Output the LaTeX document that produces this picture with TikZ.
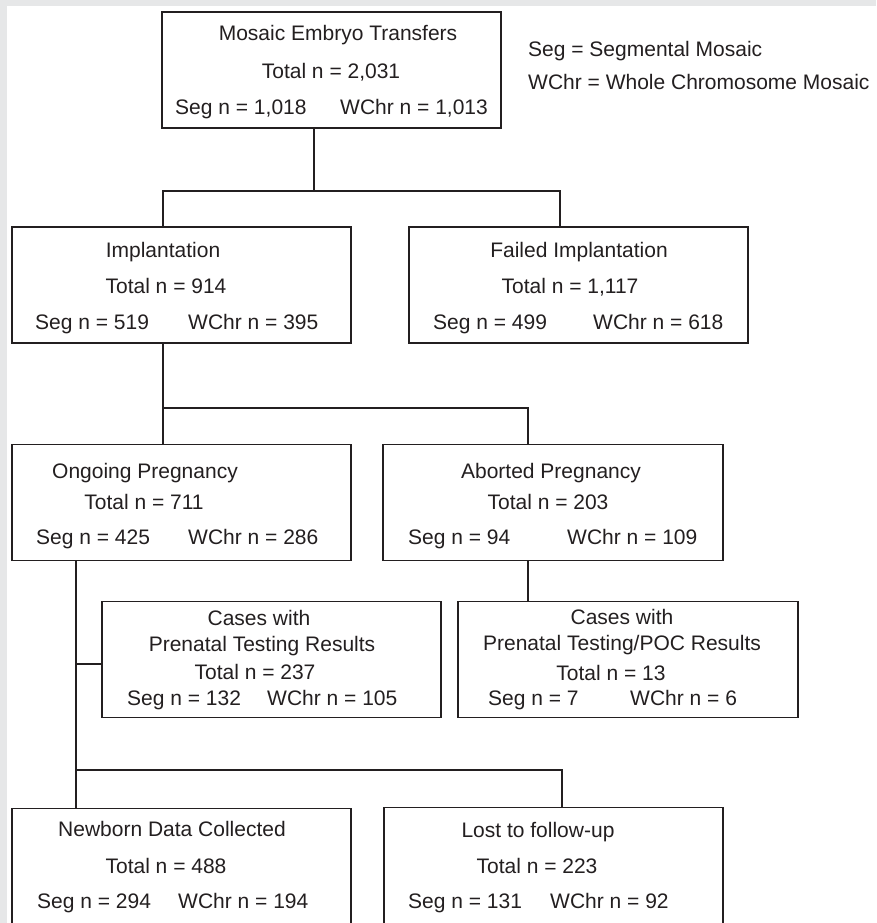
\documentclass[tikz,border=0pt]{standalone}
\usepackage{fontspec}
\setmainfont{Liberation Sans}
\definecolor{ink}{HTML}{231F20}
\definecolor{band}{HTML}{E6E7E8}
\begin{document}
\begin{tikzpicture}[x=1pt,y=-1pt,
  box/.style={draw=ink,line width=1.6pt,fill=white,rectangle,inner sep=0pt,minimum width=339pt,minimum height=116pt},
  txt/.style={text=ink,inner sep=0pt,anchor=base,font=\fontsize{21}{24}\selectfont},
  txtw/.style={txt,anchor=base west},
  link/.style={draw=ink,line width=1.6pt}]
\useasboundingbox (0,0) rectangle (876,923);
\clip (0,0) rectangle (876,923);
\fill[white] (0,0) rectangle (876,923);
\fill[band] (0,0) rectangle (876,6);
\fill[band] (0,0) rectangle (7,923);

% boxes
\node[box] (top) at (331.5,70) {};
\node[box] (impl) at (181.5,285) {};
\node[box] (fail) at (578.5,285) {};
\node[box] (ong) at (181.5,502.5) {};
\node[box,minimum width=340pt] (abo) at (553,502.5) {};
\node[box] (pre1) at (271.5,659.5) {};
\node[box,minimum width=340pt] (pre2) at (628,659.5) {};
\node[box] (new) at (181.5,866.5) {};
\node[box] (lost) at (553.5,865.5) {};

% junction coordinates
\coordinate (a1) at (314,191);
\coordinate (b1) at (163,191);
\coordinate (b2) at (560,191);
\coordinate (c1) at (163,408);
\coordinate (c2) at (528,408);
\coordinate (d1) at (76,664);
\coordinate (e1) at (76,770);
\coordinate (e2) at (562,770);

% connectors
\draw[link] (top.south -| a1) -- (a1);
\draw[link] (impl.north -| b1) |- (b2) -- (fail.north -| b2);
\draw[link] (impl.south -| c1) -- (ong.north -| c1);
\draw[link] (c1) -- (c2) -- (abo.north -| c2);
\draw[link] (abo.south -| c2) -- (pre2.north -| c2);
\draw[link] (ong.south -| d1) -- (new.north -| d1);
\draw[link] (d1) -- (pre1.west |- d1);
\draw[link] (e1) -- (e2) -- (lost.north -| e2);

% top box
\node[txt] (t1) at (338,41) {Mosaic Embryo Transfers};
\node[txt] (t2) at (331,79) {Total n = 2,031};
\node[txtw] (t3) at (175,114) {Seg n = 1,018};
\node[txtw] (t4) at (340,114) {WChr n = 1,013};
% legend
\node[txtw] (l1) at (528,57) {Seg = Segmental Mosaic};
\node[txtw] (l2) at (528,90) {WChr = Whole Chromosome Mosaic};
% implantation
\node[txt] (i1) at (163,257) {Implantation};
\node[txt] (i2) at (166,293) {Total n = 914};
\node[txtw] (i3) at (35,329) {Seg n = 519};
\node[txtw] (i4) at (188,329) {WChr n = 395};
% failed
\node[txt] (f1) at (579,257) {Failed Implantation};
\node[txt] (f2) at (570,293) {Total n = 1,117};
\node[txtw] (f3) at (433,329) {Seg n = 499};
\node[txtw] (f4) at (593,329) {WChr n = 618};
% ongoing
\node[txt] (o1) at (145,478) {Ongoing Pregnancy};
\node[txt] (o2) at (144,509) {Total n = 711};
\node[txtw] (o3) at (36,544) {Seg n = 425};
\node[txtw] (o4) at (188,544) {WChr n = 286};
% aborted
\node[txt] (ab1) at (551,478) {Aborted Pregnancy};
\node[txt] (ab2) at (548,509) {Total n = 203};
\node[txtw] (ab3) at (408,544) {Seg n = 94};
\node[txtw] (ab4) at (567,544) {WChr n = 109};
% prenatal 1
\node[txt] (p1) at (259,625) {Cases with};
\node[txt] (p2) at (262,651) {Prenatal Testing Results};
\node[txt] (p3) at (255,679) {Total n = 237};
\node[txtw] (p4) at (127,705) {Seg n = 132};
\node[txtw] (p5) at (267,705) {WChr n = 105};
% prenatal 2
\node[txt] (q1) at (622,624) {Cases with};
\node[txt] (q2) at (622,650) {Prenatal Testing/POC Results};
\node[txt] (q3) at (611,680) {Total n = 13};
\node[txtw] (q4) at (488,705) {Seg n = 7};
\node[txtw] (q5) at (630,705) {WChr n = 6};
% newborn
\node[txt] (n1) at (172,836) {Newborn Data Collected};
\node[txt] (n2) at (166,873) {Total n = 488};
\node[txtw] (n3) at (37,908) {Seg n = 294};
\node[txtw] (n4) at (178,908) {WChr n = 194};
% lost
\node[txt] (s1) at (538,837) {Lost to follow-up};
\node[txt] (s2) at (537,873) {Total n = 223};
\node[txtw] (s3) at (408,908) {Seg n = 131};
\node[txtw] (s4) at (550,908) {WChr n = 92};
\end{tikzpicture}
\end{document}
